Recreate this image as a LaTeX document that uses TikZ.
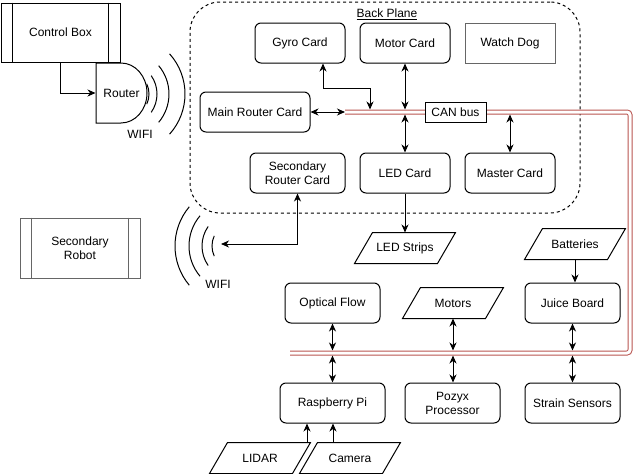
\documentclass[tikz,border=0pt]{standalone}
\usepackage{fontspec}
\setmainfont{Liberation Sans}
\usetikzlibrary{arrows.meta}
\definecolor{busred}{RGB}{184,84,80}
\definecolor{grayline}{RGB}{102,102,102}
\begin{document}
\begin{tikzpicture}[x=1pt,y=-1pt,line width=1pt,
  font=\fontsize{12}{14}\selectfont,
  >={Stealth[length=8pt,width=7pt,inset=2.5pt]},
  card/.style={draw, rounded corners=6pt, minimum width=90pt, minimum height=40pt, align=center, inner sep=2pt, fill=white},
  pbox/.style={draw=grayline, minimum width=90pt, minimum height=40pt, fill=white},
  para/.style={minimum width=100pt, minimum height=30pt, inner sep=0pt, align=center},
  bus/.style={draw=busred, double=white, double distance=3pt, line width=1pt, rounded corners=3pt},
]
\useasboundingbox (0,0) rectangle (633,474);

% back plane container
\node[draw, dash pattern=on 3pt off 3pt, rounded corners=30pt, minimum width=390pt, minimum height=211pt, inner sep=0pt] (backplane) at (385,107.5) {};
\node (bptitle) at (387,14) {\underline{Back Plane}};

% bus
\coordinate (busA) at (345,112);
\coordinate (busB) at (630,112);
\coordinate (busC) at (630,353);
\coordinate (busD) at (290,353);
\draw[bus] (busA) -- (busB) -- (busC) -- (busD);

% control box and router
\node[draw, minimum width=119pt, minimum height=59pt] (cbox) at (60.5,32.5) {Control Box};
\draw ([xshift=12pt]cbox.north west) -- ([xshift=12pt]cbox.south west);
\draw ([xshift=-12pt]cbox.north east) -- ([xshift=-12pt]cbox.south east);
\draw (96,63) -- (121,63) .. controls (135.4,63) and (147,76.4) .. (147,93) .. controls (147,109.6) and (135.4,123) .. (121,123) -- (96,123) -- cycle;
\node[minimum width=51pt, minimum height=60pt, inner sep=0pt] (router) at (121.5,93) {Router};
\draw[->] (cbox.south) |- (router.west);

% wifi 1
\foreach \r/\a in {24/25,32/35,44/40,60/42}
  \draw ([shift={(-\a:\r)}]125,94) arc[start angle=-\a,end angle=\a,radius=\r];
\node (wifi1) at (140,134) {WIFI};

% secondary robot
\node[draw=grayline, minimum width=120pt, minimum height=60pt, align=center] (secrobot) at (80,248) {Secondary\\Robot};
\draw[grayline] ([xshift=12pt]secrobot.north west) -- ([xshift=12pt]secrobot.south west);
\draw[grayline] ([xshift=-12pt]secrobot.north east) -- ([xshift=-12pt]secrobot.south east);

% wifi 2
\foreach \r/\a in {24/25,34/35,47/40,61/40}
  \draw ([shift={(180-\a:\r)}]236,246) arc[start angle=180-\a,end angle=180+\a,radius=\r];
\node (wifi2) at (218,284) {WIFI};
\coordinate (wifi2in) at (221,244);

% back plane cards
\node[card] (gyro) at (300,43) {Gyro Card};
\node[card] (motor) at (405,43) {Motor Card};
\node[pbox] (watchdog) at (510,43) {Watch Dog};
\node[card, minimum width=110pt] (mainrouter) at (255,112) {Main Router Card};
\node[draw, fill=white, minimum width=61pt, minimum height=20pt, inner sep=1pt] (canbus) at (455.5,112) {CAN bus};
\node[card, minimum width=95pt] (secrouter) at (297.5,173) {Secondary\\Router Card};
\node[card] (led) at (405,173) {LED Card};
\node[card] (master) at (510,173) {Master Card};

% parallelograms
\node[para] (ledstrips) at (405,248) {LED Strips};
\node[para] (batteries) at (575,244) {Batteries};
\node[para] (motors) at (453,303) {Motors};
\node[para] (lidar) at (260,458) {LIDAR};
\node[para] (camera) at (350,458) {Camera};
\foreach \n in {ledstrips,batteries,motors,lidar,camera}
  \draw ([xshift=18pt]\n.north west) -- (\n.north east) -- ([xshift=-18pt]\n.south east) -- (\n.south west) -- cycle;

% lower boxes
\node[card, minimum width=95pt] (optical) at (332.5,303) {Optical Flow};
\node[card, minimum width=95pt] (juice) at (572.5,303) {Juice Board};
\node[card, minimum width=105pt] (raspi) at (332.5,403) {Raspberry Pi};
\node[card, minimum width=95pt] (pozyx) at (452.5,403) {Pozyx\\Processor};
\node[card, minimum width=95pt] (strain) at (572.5,403) {Strain Sensors};

% connectors in back plane
\coordinate (gyrobus) at (370,109.5);
\coordinate (motorbus) at (405,109.5);
\coordinate (ledbus) at (405,114.5);
\coordinate (masterbus) at (510,114.5);
\draw[<->] ([xshift=23pt]gyro.south) -- ++(0,25) -| (gyrobus);
\draw[<->] (motor.south) -- (motorbus);
\draw[<->] (mainrouter.east) -- (busA);
\draw[<->] (ledbus) -- (led.north);
\draw[<->] (masterbus) -- (master.north);
\draw[<->] (secrouter.south) |- (wifi2in);
\draw[->] (led.south) -- (ledstrips.north);
\draw[->] (batteries.south) -- (batteries.south |- juice.north);

% lower bus taps
\coordinate (optT) at (332.5,350.5);
\coordinate (optB) at (332.5,355.5);
\coordinate (motT) at (453,350.5);
\coordinate (motB) at (453,355.5);
\coordinate (juiceT) at (572.5,350.5);
\coordinate (juiceB) at (572.5,355.5);
\draw[<->] (optical.south) -- (optT);
\draw[<->] (optB) -- (raspi.north);
\draw[<->] (motors.south) -- (motT);
\draw[<->] (motB) -- (motB |- pozyx.north);
\draw[<->] (juice.south) -- (juiceT);
\draw[<->] (juiceB) -- (strain.north);

% sensors into raspberry pi
\coordinate (lidtop) at ([xshift=47pt]lidar.north);
\coordinate (camtop) at ([xshift=-17pt]camera.north);
\draw[->] (lidtop) -- (lidtop |- raspi.south);
\draw[->] (camtop) -- (camtop |- raspi.south);
\end{tikzpicture}
\end{document}
